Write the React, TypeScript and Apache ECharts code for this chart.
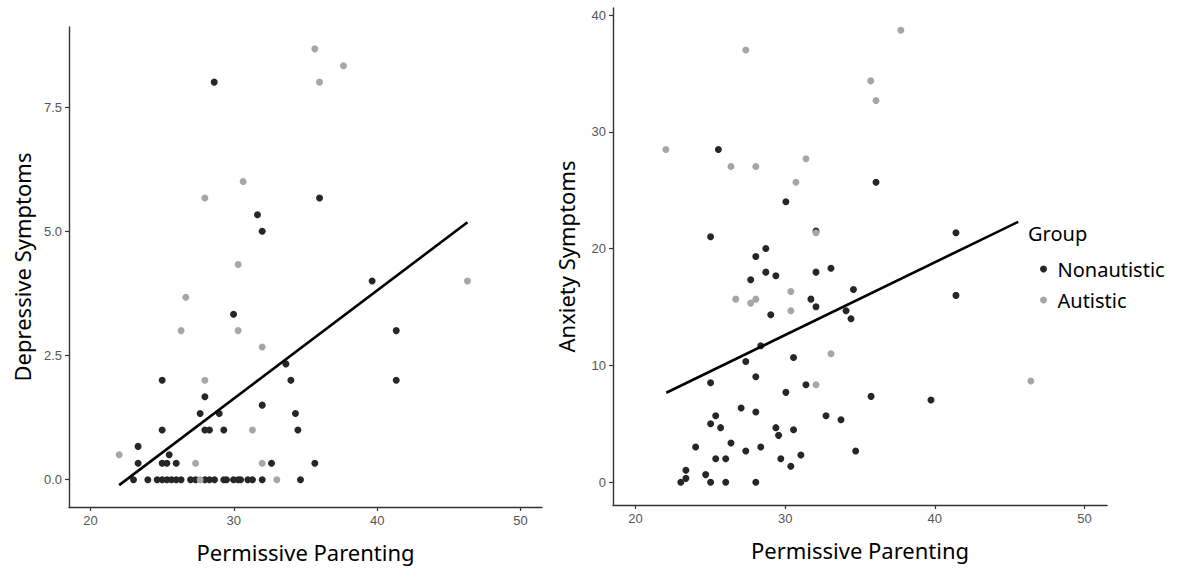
import React, { useEffect, useRef } from "react";
import * as echarts from "echarts";

// ---------- Data ----------
const xTicks = [20, 30, 40, 50];
const depTicks = [0, 2.5, 5, 7.5];
const anxTicks = [0, 10, 20, 30, 40];

// Left panel: Depressive Symptoms
const depNonX = [28.63, 35.98, 31.65, 31.98, 39.65, 29.98, 41.33, 33.63, 33.98, 25.0, 41.33, 27.98, 31.98, 27.65, 28.98, 34.3, 25.0, 27.98, 28.3, 29.3, 34.47, 23.32, 25.49, 23.32, 25.0, 25.33, 25.98, 32.63, 35.65, 23.0, 24.0, 24.65, 25.0, 25.33, 25.65, 25.98, 26.32, 26.98, 27.33, 27.98, 28.3, 28.65, 29.3, 29.49, 29.98, 30.3, 30.47, 30.98, 31.3, 31.98, 34.65];
const depNonY = [8.0, 5.67, 5.33, 5.0, 4.0, 3.33, 3.0, 2.33, 2.0, 2.0, 2.0, 1.67, 1.5, 1.33, 1.33, 1.33, 1.0, 1.0, 1.0, 1.0, 1.0, 0.67, 0.5, 0.33, 0.33, 0.33, 0.33, 0.33, 0.33, 0, 0, 0, 0, 0, 0, 0, 0, 0, 0, 0, 0, 0, 0, 0, 0, 0, 0, 0, 0, 0, 0];
const depAutX = [35.65, 37.65, 35.98, 30.65, 27.98, 30.3, 46.3, 26.65, 26.32, 30.3, 31.98, 27.98, 31.3, 22.0, 27.33, 31.98, 27.65, 33.0];
const depAutY = [8.67, 8.33, 8.0, 6.0, 5.67, 4.33, 4.0, 3.67, 3.0, 3.0, 2.67, 2.0, 1.0, 0.5, 0.33, 0.33, 0, 0];
const depFitX = [22.0, 46.3];
const depFitY = [-0.11, 5.18];

// Right panel: Anxiety Symptoms
const anxNonX = [25.54, 36.07, 30.05, 25.02, 32.06, 41.41, 41.41, 39.74, 28.04, 28.71, 28.71, 29.38, 32.06, 33.06, 27.7, 34.56, 31.72, 32.06, 34.07, 34.4, 29.04, 28.37, 30.56, 27.37, 28.04, 25.02, 31.39, 30.05, 35.74, 27.06, 28.04, 25.36, 25.02, 25.69, 32.73, 33.73, 29.38, 30.56, 29.56, 26.38, 24.02, 27.37, 28.37, 34.71, 31.05, 25.36, 26.03, 29.71, 30.38, 23.37, 23.37, 24.69, 23.03, 25.02, 26.03, 28.04];
const anxNonY = [28.49, 25.69, 24.01, 21.02, 21.5, 21.36, 16.0, 7.04, 19.33, 20.02, 17.99, 17.68, 17.99, 18.33, 17.34, 16.51, 15.68, 15.03, 14.69, 14.0, 14.34, 11.69, 10.69, 10.35, 9.04, 8.53, 8.36, 7.7, 7.36, 6.36, 6.02, 5.7, 5.02, 4.68, 5.7, 5.36, 4.68, 4.5, 4.02, 3.36, 3.02, 2.68, 3.02, 2.68, 2.34, 2.02, 2.02, 2.02, 1.37, 1.03, 0.34, 0.66, 0, 0, 0, 0];
const anxAutX = [37.73, 27.37, 35.72, 36.07, 22.03, 26.38, 28.04, 31.39, 30.72, 32.06, 46.41, 30.38, 26.7, 27.7, 28.04, 30.38, 33.06, 32.06];
const anxAutY = [38.7, 37.0, 34.36, 32.68, 28.49, 27.03, 27.03, 27.69, 25.69, 21.36, 8.67, 16.34, 15.68, 15.34, 15.68, 14.69, 11.01, 8.36];
const anxFitX = [22.06, 45.57];
const anxFitY = [7.67, 22.3];

const groups = ["Nonautistic", "Autistic"];

// ---------- helpers ----------
const zip = (xs: number[], ys: number[]) => xs.map((x, i) => [x, ys[i]]);

const DARK = "#262626";
const LIGHT = "#a6a6a6";
const TITLE_FONT = "'Noto Sans', 'Open Sans', sans-serif";
const TICK_FONT = "'Liberation Sans', Arial, sans-serif";

function xAxisDef(gridIndex: number) {
  return {
    type: "value",
    gridIndex,
    min: 18.5,
    max: 51.5,
    name: "Permissive Parenting",
    nameLocation: "middle",
    nameGap: 34,
    nameTextStyle: { fontFamily: TITLE_FONT, fontSize: 22, color: "#000" },
    splitLine: { show: false },
    axisLine: { show: true, onZero: false, lineStyle: { color: "#333", width: 1.4 } },
    axisTick: { show: true, length: 4, customValues: xTicks, lineStyle: { color: "#333", width: 1.2 } },
    axisLabel: { customValues: xTicks, margin: 7, fontFamily: TICK_FONT, fontSize: 13, color: "#555" },
  };
}

function yAxisDef(gridIndex: number, name: string, min: number, max: number, ticks: number[], fmt: (v: number) => string) {
  return {
    type: "value",
    gridIndex,
    min,
    max,
    name,
    nameLocation: "middle",
    nameGap: 36,
    nameTextStyle: { fontFamily: TITLE_FONT, fontSize: 22, color: "#000" },
    splitLine: { show: false },
    axisLine: { show: true, onZero: false, lineStyle: { color: "#333", width: 1.4 } },
    axisTick: { show: true, length: 4, customValues: ticks, lineStyle: { color: "#333", width: 1.2 } },
    axisLabel: { customValues: ticks, margin: 7, fontFamily: TICK_FONT, fontSize: 13, color: "#555", formatter: fmt },
  };
}

function scatter(name: string, color: string, idx: number, data: number[][]) {
  return {
    type: "scatter",
    name,
    xAxisIndex: idx,
    yAxisIndex: idx,
    symbol: "circle",
    symbolSize: 7,
    itemStyle: { color, opacity: 1 },
    data,
    z: 2,
  };
}

function fit(idx: number, data: number[][]) {
  return {
    type: "line",
    name: "fit" + idx,
    xAxisIndex: idx,
    yAxisIndex: idx,
    data,
    symbol: "none",
    lineStyle: { color: "#000", width: 2.6 },
    z: 3,
  };
}

export default function App() {
  const ref = useRef<HTMLDivElement>(null);

  useEffect(() => {
    if (!ref.current) return;
    const chart = echarts.init(ref.current, undefined, { renderer: "svg" });
    chart.setOption({
      animation: false,
      backgroundColor: "#fff",
      grid: [
        { left: 69, top: 27, width: 473, height: 480, containLabel: false },
        { left: 613, top: 8, width: 494, height: 497, containLabel: false },
      ],
      xAxis: [xAxisDef(0), xAxisDef(1)],
      yAxis: [
        yAxisDef(0, "Depressive Symptoms", -0.55, 9.11, depTicks, (v: number) => v.toFixed(1)),
        yAxisDef(1, "Anxiety Symptoms", -1.94, 40.6, anxTicks, (v: number) => String(v)),
      ],
      legend: {
        data: groups,
        orient: "vertical",
        left: 1035,
        top: 253,
        itemWidth: 18,
        itemHeight: 7,
        itemGap: 9,
        icon: "circle",
        textStyle: { fontFamily: TITLE_FONT, fontSize: 20, color: "#000", lineHeight: 22 },
        selectedMode: false,
      },
      graphic: [
        {
          type: "text",
          left: 1028,
          top: 223,
          style: { text: "Group", fontFamily: TITLE_FONT, fontSize: 20, fill: "#000" },
        },
      ],
      series: [
        scatter(groups[0], DARK, 0, zip(depNonX, depNonY)),
        scatter(groups[1], LIGHT, 0, zip(depAutX, depAutY)),
        fit(0, zip(depFitX, depFitY)),
        scatter(groups[0], DARK, 1, zip(anxNonX, anxNonY)),
        scatter(groups[1], LIGHT, 1, zip(anxAutX, anxAutY)),
        fit(1, zip(anxFitX, anxFitY)),
      ],
    });
    return () => chart.dispose();
  }, []);

  return (
    <div
      ref={ref}
      style={{ position: "fixed", left: 0, top: 0, width: 1182, height: 572, background: "#fff" }}
    />
  );
}
